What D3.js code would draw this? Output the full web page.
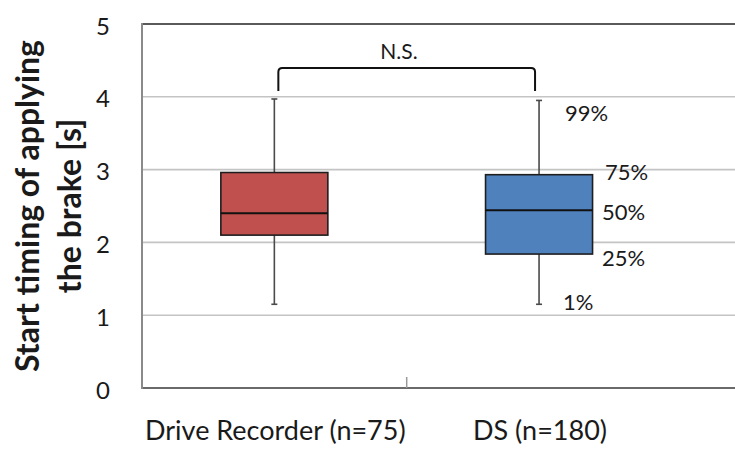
<!DOCTYPE html>
<html>
<head>
<meta charset="utf-8">
<script src="https://cdn.jsdelivr.net/npm/d3@7"></script>
<style>
  body { margin: 0; background: #fff; }
  svg { display: block; font-family: Lato, "Open Sans", sans-serif; }
</style>
</head>
<body>
<svg id="chart" width="735" height="450"></svg>
<script>
// values
const categories = ['Drive Recorder (n=75)', 'DS (n=180)'];
const p01 = [1.15, 1.15];
const p25 = [2.10, 1.84];
const p50 = [2.40, 2.44];
const p75 = [2.96, 2.93];
const p99 = [3.97, 3.95];
const yTicks = [0, 1, 2, 3, 4, 5];
const pctLabels = ['99%', '75%', '50%', '25%', '1%'];
const fills = ['#c0504d', '#4f81bd'];

let svg = d3.select('#chart');
let plotL = 142, plotT = 24, plotB = 388, plotR = 735;

let y = d3.scaleLinear().domain([0, 5]).range([plotB, plotT]);
// a category is ~265px wide, the plot runs off the right edge
let x = d3.scaleBand().domain(categories).range([plotL, plotL + 2 * 264.7]);

// gridlines
svg.append('g').selectAll('line')
  .data(yTicks.filter(d => d > 0 && d < 5))
  .enter().append('line')
  .attr('x1', plotL).attr('x2', plotR)
  .attr('y1', d => y(d)).attr('y2', d => y(d))
  .attr('stroke', '#c4c4c4').attr('stroke-width', 1.6);

// frame
svg.append('line').attr('x1', plotL).attr('x2', plotR).attr('y1', y(5)).attr('y2', y(5))
  .attr('stroke', '#5a5a5a').attr('stroke-width', 2);
svg.append('line').attr('x1', plotL).attr('x2', plotR).attr('y1', y(0)).attr('y2', y(0))
  .attr('stroke', '#6a6a6a').attr('stroke-width', 2);
svg.append('line').attr('x1', plotL).attr('x2', plotL).attr('y1', y(5) - 1).attr('y2', y(0) + 1)
  .attr('stroke', '#8a8a8a').attr('stroke-width', 2);
// tick between the two categories
svg.append('line')
  .attr('x1', x(categories[1])).attr('x2', x(categories[1]))
  .attr('y1', y(0)).attr('y2', y(0) - 11)
  .attr('stroke', '#9a9a9a').attr('stroke-width', 1.5);

// y tick labels
svg.append('g').selectAll('text')
  .data(yTicks)
  .enter().append('text')
  .attr('x', 110).attr('y', d => y(d) + 10.5)
  .attr('text-anchor', 'end')
  .style('font-size', '24px').style('fill', '#1a1a1a')
  .text(d => d);

// y title
let title = svg.append('text')
  .attr('transform', 'translate(0,' + (y(2.5)) + ') rotate(-90)')
  .attr('text-anchor', 'middle')
  .style('font-size', '32px').style('font-weight', 'bold').style('fill', '#1a1a1a');
title.append('tspan').attr('x', 0).attr('y', 39).text('Start timing of applying');
title.append('tspan').attr('x', 0).attr('y', 81).text('the brake [s]');

// boxes
let boxW = 107;
let box = svg.append('g').selectAll('g')
  .data(categories)
  .enter().append('g');

box.append('line')
  .attr('x1', d => x(d) + x.bandwidth() / 2).attr('x2', d => x(d) + x.bandwidth() / 2)
  .attr('y1', (d, i) => y(p99[i])).attr('y2', (d, i) => y(p01[i]))
  .attr('stroke', '#4a4a4a').attr('stroke-width', 1.6);
[p99, p01].forEach(arr => {
  box.append('line')
    .attr('x1', d => x(d) + x.bandwidth() / 2 - 3).attr('x2', d => x(d) + x.bandwidth() / 2 + 3)
    .attr('y1', (d, i) => y(arr[i])).attr('y2', (d, i) => y(arr[i]))
    .attr('stroke', '#4a4a4a').attr('stroke-width', 1.6);
});
box.append('rect')
  .attr('x', d => x(d) + x.bandwidth() / 2 - boxW / 2)
  .attr('width', boxW)
  .attr('y', (d, i) => y(p75[i]))
  .attr('height', (d, i) => y(p25[i]) - y(p75[i]))
  .attr('fill', (d, i) => fills[i])
  .attr('stroke', '#1e1e1e').attr('stroke-width', 1.6);
box.append('line')
  .attr('x1', d => x(d) + x.bandwidth() / 2 - boxW / 2).attr('x2', d => x(d) + x.bandwidth() / 2 + boxW / 2)
  .attr('y1', (d, i) => y(p50[i])).attr('y2', (d, i) => y(p50[i]))
  .attr('stroke', '#111').attr('stroke-width', 2);

// percentile labels next to the DS box
let cx = x(categories[1]) + x.bandwidth() / 2;
let pctVals = [p99[1], p75[1], p50[1], p25[1], p01[1]];
let pctX = [cx + 26, cx + 66, cx + 63, cx + 63, cx + 24];
let pctDy = [21, 5, 10, 12, 6];
svg.append('g').selectAll('text')
  .data(pctLabels)
  .enter().append('text')
  .attr('x', (d, i) => pctX[i])
  .attr('y', (d, i) => y(pctVals[i]) + pctDy[i])
  .style('font-size', '22px').style('fill', '#1a1a1a')
  .text(d => d);

// significance bracket
let bx1 = x(categories[0]) + x.bandwidth() / 2 + 4;
let bx2 = x(categories[1]) + x.bandwidth() / 2 - 4;
let by = 68, bl = 91, r = 4;
svg.append('path')
  .attr('d', 'M' + bx1 + ',' + bl + 'V' + (by + r) + 'Q' + bx1 + ',' + by + ' ' + (bx1 + r) + ',' + by +
    'H' + (bx2 - r) + 'Q' + bx2 + ',' + by + ' ' + bx2 + ',' + (by + r) + 'V' + bl)
  .attr('fill', 'none').attr('stroke', '#111').attr('stroke-width', 2);
svg.append('text')
  .attr('x', 399).attr('y', 59)
  .attr('text-anchor', 'middle')
  .style('font-size', '21px').style('fill', '#1a1a1a')
  .text('N.S.');

// category labels
svg.append('g').selectAll('text')
  .data(categories)
  .enter().append('text')
  .attr('x', d => x(d) + x.bandwidth() / 2 + 1)
  .attr('y', 440)
  .attr('text-anchor', 'middle')
  .style('font-size', '27px').style('fill', '#1a1a1a')
  .text(d => d);
</script>
</body>
</html>
